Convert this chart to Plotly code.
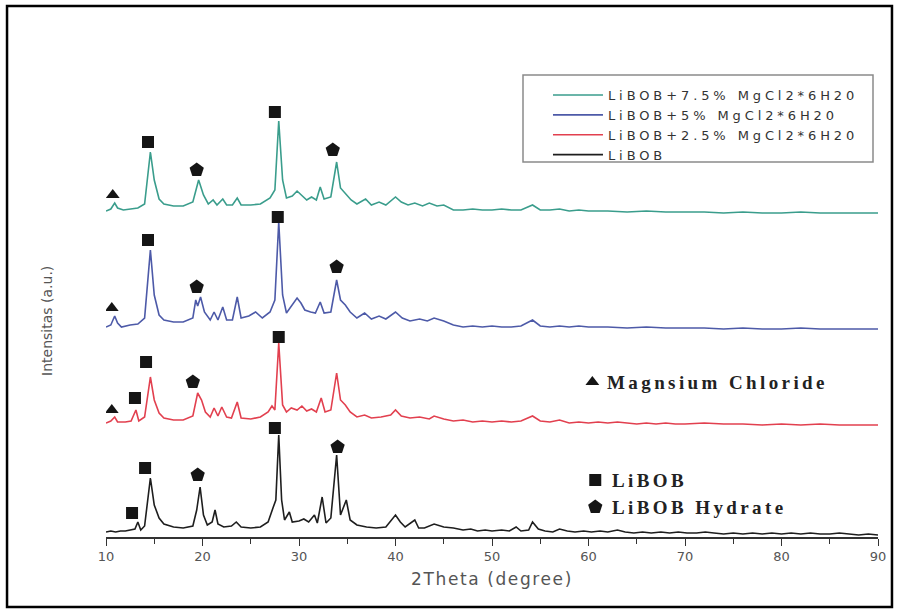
import plotly.graph_objects as go

# ---------------- data ----------------
# 2Theta positions / intensities (a.u., traces already stacked with offsets)
x_libob = [10, 10.5, 11, 11.5, 12, 12.5, 13.0, 13.3, 13.6, 14.0, 14.6, 15.0, 15.5, 16, 17, 18, 19, 19.4, 19.75,
           20.1, 20.5, 21.0, 21.3, 21.6, 22.2, 23, 23.5, 24, 25, 26, 26.8, 27.3, 27.6, 27.9, 28.2, 28.5, 29.0,
           29.3, 30, 30.5, 31, 31.6, 31.9, 32.4, 32.8, 33.3, 33.9, 34.3, 34.9, 35.3, 36, 37, 38, 39, 40, 40.5,
           41, 42, 42.4, 43, 44, 45, 46, 47, 47.8, 48.5, 49.3, 50, 51, 51.8, 52.5, 53, 53.8, 54.2, 54.8, 55.5,
           56.3, 57, 57.8, 58.6, 59.5, 60.3, 61.2, 62, 63, 63.8, 64.7, 65.6, 66.5, 67.5, 68.4, 69.3, 70.2, 71.2,
           72.1, 73, 74, 75, 76, 77, 78, 79, 80, 81, 82, 83, 84, 85, 86, 87, 88, 89, 90]
y_libob = [5, 6, 5, 6, 6, 7, 8, 15, 7, 11, 59, 32, 19, 13, 10, 9, 11, 27, 50,
           22, 12, 15, 27, 13, 10, 11, 15, 10, 9, 10, 15, 29, 37, 102, 37, 17, 25,
           15, 16, 18, 15, 22, 14, 40, 14, 19, 82, 22, 37, 17, 12, 10, 9, 10, 22, 15,
           10, 17, 9, 9, 13, 10, 9, 7, 8, 6, 7, 6, 7, 6, 10, 6, 7, 15, 8, 6,
           5, 8, 6, 5, 6, 5, 6, 5, 7, 5, 4, 5, 4, 5, 4, 5, 4, 4,
           5, 4, 3, 4, 3, 4, 3, 4, 3, 4, 3, 4, 3, 3, 4, 3, 2, 3, 2]

x_mg25 = [10, 10.5, 10.9, 11.2, 12, 12.6, 13.1, 13.4, 14.0, 14.6, 15.0, 15.5, 16, 17, 18, 19, 19.5, 19.9, 20.3,
          20.8, 21.2, 21.6, 22.0, 22.5, 23.0, 23.6, 24.0, 25, 26, 26.8, 27.2, 27.5, 27.9, 28.3, 28.7, 29.2,
          29.8, 30.3, 30.8, 31.3, 31.8, 32.3, 32.7, 33.3, 33.9, 34.3, 34.8, 35.3, 36, 36.8, 37.5, 38.5, 39.5,
          40, 40.6, 41.5, 42.5, 43.5, 44, 45, 46, 47, 48, 49, 50, 51, 52, 53, 54.2, 55, 56, 57, 58, 59, 60,
          61, 62, 63, 64, 65, 66, 67, 68, 69, 70, 72, 74, 76, 78, 80, 82, 84, 86, 88, 90]
y_mg25 = [114, 116, 120, 115, 115, 116, 127, 116, 120, 160, 137, 124, 119, 117, 117, 121, 144, 137, 125,
          120, 129, 121, 130, 120, 119, 135, 119, 118, 120, 125, 131, 127, 194, 132, 125, 129,
          127, 131, 126, 128, 125, 139, 125, 127, 164, 137, 132, 125, 120, 122, 119, 120, 122,
          127, 121, 119, 120, 118, 121, 118, 116, 117, 115, 116, 115, 116, 115, 116, 121, 116, 115, 117, 114, 115, 114,
          115, 114, 115, 114, 113, 114, 113, 114, 113, 113, 114, 113, 113, 112, 113, 112, 113, 112, 112, 112]

x_mg5 = [10, 10.5, 10.9, 11.2, 11.6, 12.5, 13.3, 14.0, 14.6, 15.0, 15.5, 16, 17, 18, 19, 19.3, 19.5, 19.8, 20.2,
         20.8, 21.2, 21.6, 22.1, 22.5, 23.1, 23.6, 24.0, 24.8, 25.5, 26.2, 27.0, 27.5, 27.9, 28.3, 28.7, 29.3,
         29.8, 30.2, 30.6, 31.2, 31.7, 32.2, 32.6, 33.3, 33.9, 34.3, 34.8, 35.3, 36, 36.8, 37.5, 38.3, 39,
         40, 40.7, 41.5, 42.5, 43.3, 44, 45, 46, 47, 48, 49, 50, 51, 52, 53, 54.2, 55, 56, 57, 58, 59, 60,
         62, 64, 66, 68, 70, 72, 74, 76, 78, 80, 82, 84, 86, 88, 90]
y_mg5 = [210, 212, 221, 214, 210, 212, 213, 219, 287, 242, 222, 217, 215, 215, 219, 237, 231, 240, 225,
         217, 225, 217, 230, 217, 217, 240, 219, 221, 225, 219, 225, 237, 315, 242, 224, 232,
         239, 234, 227, 225, 224, 235, 224, 225, 257, 237, 232, 225, 219, 224, 218, 221, 218,
         225, 219, 216, 218, 216, 219, 216, 212, 210, 211, 210, 211, 210, 210, 211, 217, 211, 210, 211, 210, 211, 210,
         210, 209, 210, 209, 209, 209, 208, 209, 208, 208, 209, 208, 208, 208, 208]

x_mg75 = [10, 10.5, 10.9, 11.2, 11.8, 12.5, 13.3, 14.0, 14.6, 15.0, 15.5, 16, 17, 18, 19, 19.6, 20.1, 20.6,
          21.1, 21.5, 22.1, 22.5, 23.1, 23.6, 24.0, 25, 26, 27, 27.5, 27.9, 28.3, 28.7, 29.3, 29.8, 30.3,
          30.8, 31.3, 31.8, 32.2, 32.6, 33.3, 33.9, 34.3, 34.9, 35.4, 36.0, 36.9, 37.5, 38.3, 39, 40, 40.6,
          41.3, 42, 42.8, 43.5, 44.3, 45, 46, 47, 48, 49, 50, 51, 52, 53, 54.2, 55, 56, 57, 58, 59, 60,
          62, 64, 66, 68, 70, 72, 74, 76, 78, 80, 82, 84, 86, 88, 90]
y_mg75 = [326, 328, 334, 329, 327, 328, 329, 333, 385, 357, 338, 333, 331, 331, 335, 357, 342, 333,
          337, 332, 338, 332, 332, 339, 332, 332, 333, 339, 347, 416, 357, 339, 341, 346, 341,
          337, 340, 337, 350, 338, 340, 375, 349, 342, 337, 333, 338, 332, 335, 332, 340, 335,
          332, 334, 331, 334, 331, 332, 327, 327, 328, 327, 327, 328, 327, 327, 332, 327, 327, 328, 326, 327, 326,
          326, 325, 326, 325, 325, 325, 324, 325, 324, 324, 325, 324, 324, 324, 324]

series_names = ["LiBOB+7.5% MgCl2*6H20", "LiBOB+5% MgCl2*6H20", "LiBOB+2.5% MgCl2*6H20", "LiBOB"]

# peak labels (phase markers)
sq_x = [14.35, 27.5, 14.35, 27.8, 14.15, 13.0, 27.9, 14.05, 12.7, 27.5]
sq_y = [395, 425, 297, 320, 175, 139, 200, 69, 24, 109]
pent_x = [19.4, 33.5, 19.4, 33.9, 19.0, 19.5, 34.0]
pent_y = [367, 387, 250, 270, 155, 62, 90]
tri_x = [10.7, 10.6, 10.6]
tri_y = [342, 229, 127]

# phase key
key_labels = ["Magnsium Chloride", "LiBOB", "LiBOB Hydrate"]
key_sym_x = [60.4, 60.7, 60.7]
key_sym_y = [155, 57, 30]
key_text_x = [61.7, 62.2, 62.2]

x_ticks = [10, 20, 30, 40, 50, 60, 70, 80, 90]

# ---------------- figure ----------------
colors = ["#3a9d8c", "#4d5aa8", "#e2404f", "#1e1e1e"]
xs = [x_mg75, x_mg5, x_mg25, x_libob]
ys = [y_mg75, y_mg5, y_mg25, y_libob]

fig = go.Figure()
for name, x, y, c in zip(series_names, xs, ys, colors):
    fig.add_trace(go.Scatter(
        x=x, y=y, mode="lines", name="<span style='letter-spacing:3.9px'>" + name + "</span>",
        line=dict(color=c, width=1.6), hoverinfo="skip"))

mk = "#151515"
fig.add_trace(go.Scatter(x=sq_x + [key_sym_x[1]], y=sq_y + [key_sym_y[1]], mode="markers",
                         marker=dict(symbol="square", size=12, color=mk), showlegend=False, hoverinfo="skip"))
fig.add_trace(go.Scatter(x=pent_x + [key_sym_x[2]], y=pent_y + [key_sym_y[2]], mode="markers",
                         marker=dict(symbol="pentagon", size=15, color=mk), showlegend=False, hoverinfo="skip"))
fig.add_trace(go.Scatter(x=tri_x + [key_sym_x[0]], y=tri_y + [key_sym_y[0]], mode="markers",
                         marker=dict(symbol="triangle-up", size=12, color=mk), showlegend=False, hoverinfo="skip"))

for lab, tx, ty in zip(key_labels, key_text_x, key_sym_y):
    fig.add_annotation(x=tx, y=ty, xref="x", yref="y", xanchor="left", yanchor="middle",
                       text="<span style='letter-spacing:3.4px'>" + lab + "</span>", showarrow=False,
                       font=dict(family="Liberation Serif", size=19, color="#222222", weight="bold"))

# y-axis title as annotation (positioned as in reference)
fig.add_annotation(x=-0.0764, y=0.418, xref="paper", yref="paper", text="Intensitas (a.u.)",
                   textangle=-90, showarrow=False, xanchor="center", yanchor="middle",
                   font=dict(family="DejaVu Sans", size=14, color="#555555"))

# legend box
fig.add_shape(type="rect", xref="paper", yref="paper",
              x0=(523 - 106) / 772, x1=(873 - 106) / 772,
              y0=(537 - 162) / 517, y1=(537 - 75) / 517,
              line=dict(color="#8a8a8a", width=1.5), fillcolor="rgba(0,0,0,0)")
# outer image frame
fig.add_shape(type="rect", xref="paper", yref="paper",
              x0=-0.1282, x1=1.0181, y0=-0.1354, y1=1.0271,
              line=dict(color="#000000", width=2.5), fillcolor="rgba(0,0,0,0)")

fig.update_layout(
    width=899, height=612,
    margin=dict(l=106, r=21, t=20, b=75),
    paper_bgcolor="white", plot_bgcolor="white",
    showlegend=True,
    legend=dict(x=(553 - 106) / 772 - 0.0065, y=(537 - 80) / 517, xanchor="left", yanchor="top",
                bgcolor="rgba(0,0,0,0)", borderwidth=0, tracegroupgap=0,
                font=dict(family="DejaVu Sans", size=13, color="#333333"),
                itemwidth=50),
    xaxis=dict(range=[10, 90], tickvals=x_ticks, ticks="outside", ticklen=7, tickwidth=1.3,
               tickcolor="#333333", showline=True, linecolor="#333333", linewidth=1.5,
               showgrid=False, zeroline=False,
               minor=dict(dtick=5, ticklen=5, tickwidth=1.2, tickcolor="#333333", ticks="outside", showgrid=False),
               tickfont=dict(family="DejaVu Sans", size=13, color="#555555"),
               title=dict(text="<span style='letter-spacing:1.6px'>2Theta (degree)</span>",
                          font=dict(family="DejaVu Sans", size=17, color="#555555"), standoff=10)),
    yaxis=dict(range=[0, 517], visible=False, showgrid=False, zeroline=False),
)

fig.write_html("out.html", config={"displayModeBar": False},
               post_script="document.body.style.margin='0px';")
